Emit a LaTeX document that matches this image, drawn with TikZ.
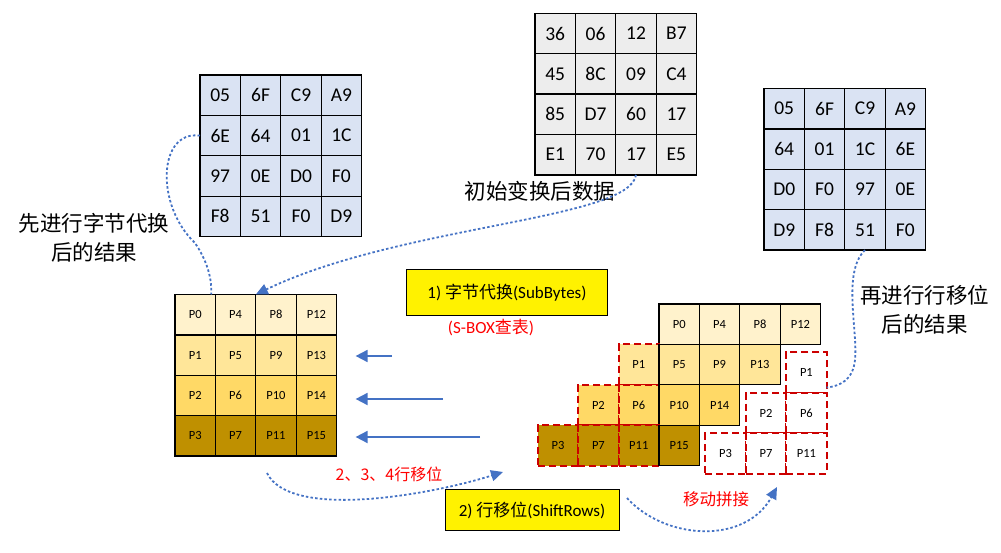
\documentclass[tikz,border=0pt]{standalone}
\usepackage{fontspec}
\setmainfont{Carlito}
\newfontfamily\cjk{Noto Sans CJK SC}
\usepackage{xcolor}
\usetikzlibrary{positioning, arrows.meta}

\definecolor{subblue}{RGB}{218,227,243}
\definecolor{initgray}{RGB}{237,237,237}
\definecolor{prow0}{RGB}{255,242,204}
\definecolor{prow1}{RGB}{255,230,153}
\definecolor{prow2}{RGB}{255,217,102}
\definecolor{prow3}{RGB}{191,144,0}
\definecolor{linkblue}{RGB}{68,114,196}
\definecolor{noteRed}{RGB}{255,0,0}
\definecolor{dashRed}{RGB}{204,0,0}

\begin{document}
\begin{tikzpicture}[x=1pt, y=-1pt,
    bytecell/.style={draw, line width=1.3pt, minimum size=40.4pt, inner sep=0pt, outer sep=0pt, font=\fontsize{19.5}{22}\selectfont},
    pcell/.style={draw, line width=1.3pt, minimum size=40.4pt, inner sep=0pt, outer sep=0pt, font=\fontsize{12.5}{14}\selectfont},
    movedcell/.style={pcell, draw=dashRed, line width=1.9pt, dash pattern=on 7pt off 4pt},
    titlebox/.style={draw, line width=1pt, fill=yellow, inner sep=0pt, font=\fontsize{17}{20}\selectfont},
    cjklabel/.style={font=\cjk\fontsize{21.5}{29}\selectfont, align=center},
    note/.style={text=noteRed, font=\fontsize{17}{20}\selectfont},
    dotlink/.style={linkblue, line width=1.8pt, dash pattern=on 2.5pt off 2.2pt},
    dotarrow/.style={dotlink, -{Triangle[length=12pt,width=11pt]}},
    shiftarrow/.style={linkblue, line width=1.8pt, -{Triangle[length=12pt,width=12pt]}}]
\useasboundingbox (0,0) rectangle (1001,553);

% after SubBytes
\foreach \row [count=\r from 0] in {{05,6F,C9,A9},{6E,64,01,1C},{97,0E,D0,F0},{F8,51,F0,D9}}
  \foreach \v [count=\c from 0] in \row
    \node[bytecell, fill=subblue] (sb-\r-\c) at ({220.2+40.4*\c},{95.2+40.4*\r}) {\v};

% initial data
\foreach \row [count=\r from 0] in {{36,06,12,B7},{45,8C,09,C4},{85,D7,60,17},{E1,70,17,E5}}
  \foreach \v [count=\c from 0] in \row
    \node[bytecell, fill=initgray] (in-\r-\c) at ({555.2+40.4*\c},{33.5+40.4*\r}) {\v};

% after ShiftRows
\foreach \row [count=\r from 0] in {{05,6F,C9,A9},{64,01,1C,6E},{D0,F0,97,0E},{D9,F8,51,F0}}
  \foreach \v [count=\c from 0] in \row
    \node[bytecell, fill=subblue] (sr-\r-\c) at ({784.2+40.4*\c},{108.7+40.4*\r}) {\v};

% state matrix
\foreach \r in {0,...,3}
  \foreach \c in {0,...,3} {
    \pgfmathtruncatemacro{\p}{\r+4*\c}
    \node[pcell, fill=prow\r] (st-\r-\c) at ({195.2+40.4*\c},{314.7+40.4*\r}) {P\p};
  }

% shifted rows
\foreach \r in {0,...,3}
  \foreach \c in {0,...,3} {
    \pgfmathtruncatemacro{\p}{\r+4*\c}
    \pgfmathtruncatemacro{\k}{\c-\r}
    \ifnum\k<0
      \node[movedcell, fill=prow\r] (sh-\r-\c) at ({679.2+40.4*\k},{324.2+40.4*\r}) {P\p};
    \else
      \node[pcell, fill=prow\r] (sh-\r-\c) at ({679.2+40.4*\k},{324.2+40.4*\r}) {P\p};
    \fi
  }

% moved pieces
\foreach \r in {1,2,3} {
  \pgfmathtruncatemacro{\last}{\r-1}
  \foreach \c in {0,...,\last} {
    \pgfmathtruncatemacro{\p}{\r+4*\c}
    \node[movedcell, fill=white] (mv-\r-\c) at ({685.2+40.4*(\c-\r+4)},{332.2+40.4*\r}) {P\p};
  }
}

% boxes and labels
\node[titlebox, minimum width=200.6pt, minimum height=45pt] (subbytes) at (507,292.5) {1) {\cjk 字节代换}(SubBytes)};
\node[note, below=0pt of subbytes, xshift=-16pt] (sbox) {(S-BOX{\cjk 查表})};
\node[titlebox, minimum width=174pt, minimum height=40.7pt] (shiftrows) at (532,510.3) {2) {\cjk 行移位}(ShiftRows)};

\node[cjklabel] (sblabel) at (94,238) {先进行字节代换\\后的结果};
\node[cjklabel] (srlabel) at (924.5,310) {再进行行移位\\后的结果};
\node[cjklabel] (inlabel) at (540,191) {初始变换后数据};
\node[note, font=\cjk\fontsize{16}{18}\selectfont] (rowlabel) at (389,474) {2、3、4行移位};
\node[note, font=\cjk\fontsize{16.5}{18}\selectfont] (joinlabel) at (716,499) {移动拼接};

% links
\draw[dotlink] (sb-1-0.west) .. controls (158,130) and (155,205) .. (195,243)
  .. controls (208,262) and (212,280) .. ([xshift=16pt]st-0-0.north);
\draw[dotarrow] (in-3-2.south) .. controls (630,220) and (400,225) .. (st-0-2.north west);
\draw[dotlink] (sr-3-2.south) .. controls (842,272) and (858,330) .. (855,360)
  .. controls (853,380) and (840,386) .. ([yshift=-15pt]mv-1-0.east);

\coordinate (shl) at (267,473);
\coordinate (shr) at (503,472);
\draw[dotarrow] (shl) .. controls (290,520) and (430,495) .. (shr);
\coordinate (jnl) at (627,498);
\coordinate (jnr) at (777,487);
\draw[dotarrow] (jnl) .. controls (665,540) and (745,545) .. (jnr);

\foreach \i/\ax/\ay in {1/392/356, 2/443/399, 3/480/437} {
  \coordinate (tip\i) at ([xshift=19pt]st-\i-3.east);
  \coordinate (tail\i) at (\ax,\ay);
  \draw[shiftarrow] (tail\i) -- (tail\i -| tip\i);
}
\end{tikzpicture}
\end{document}
